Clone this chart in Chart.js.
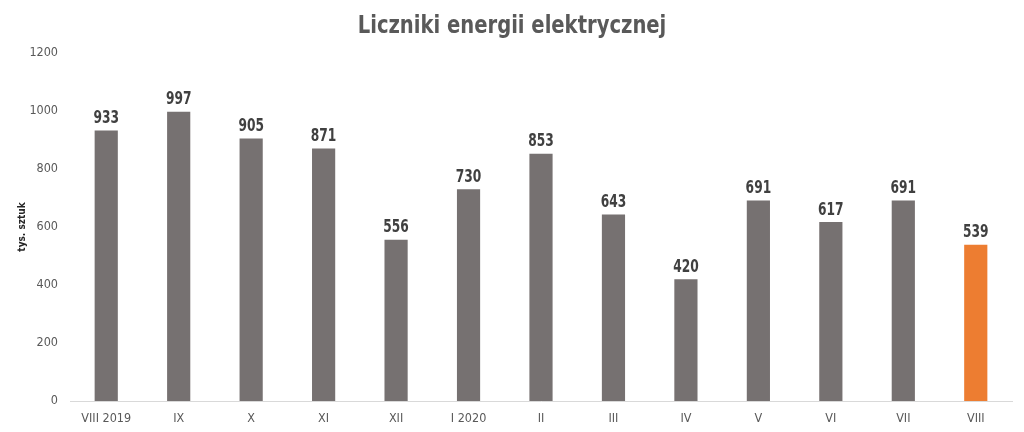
<!DOCTYPE html>
<html>
<head>
<meta charset="utf-8">
<script src="https://cdn.jsdelivr.net/npm/chart.js@4"></script>
<style>
html,body{margin:0;padding:0;background:#fff;}
#wrap{width:1024px;height:432px;position:relative;}
canvas{display:block;}
</style>
</head>
<body>
<div id="wrap"><canvas id="c" width="1024" height="432"></canvas></div>
<script>
const chartTitle = 'Liczniki energii elektrycznej';
const yAxisTitle = 'tys. sztuk';
const categories = ["VIII 2019","IX","X","XI","XII","I 2020","II","III","IV","V","VI","VII","VIII"];
const values = [933, 997, 905, 871, 556, 730, 853, 643, 420, 691, 617, 691, 539];
const barColors = ["#767171","#767171","#767171","#767171","#767171","#767171","#767171","#767171","#767171","#767171","#767171","#767171","#ED7D31"];
const yTicks = [0, 200, 400, 600, 800, 1000, 1200];

const NARROW = "'Liberation Sans Narrow','Arial Narrow','DejaVu Sans Condensed',sans-serif";

function drawCondensed(ctx, text, x, y, sx) {
  ctx.save();
  ctx.translate(x, y);
  ctx.scale(sx, 1);
  ctx.fillText(text, 0, 0);
  ctx.restore();
}

const textPlugin = {
  id: 'textPlugin',
  afterDraw(chart) {
    const ctx = chart.ctx;
    // title
    ctx.save();
    ctx.font = "bold 25px " + NARROW;
    ctx.fillStyle = "#595959";
    ctx.textAlign = "center";
    ctx.textBaseline = "alphabetic";
    drawCondensed(ctx, chartTitle, 512, 33, 0.87);
    ctx.restore();
    // value labels
    const meta = chart.getDatasetMeta(0);
    ctx.save();
    ctx.font = "bold 17px " + NARROW;
    ctx.fillStyle = "#404040";
    ctx.textAlign = "center";
    ctx.textBaseline = "alphabetic";
    meta.data.forEach((bar, i) => {
      drawCondensed(ctx, String(values[i]), bar.x, bar.y - 7.5, 0.8);
    });
    ctx.restore();
  }
};

new Chart(document.getElementById('c'), {
  type: 'bar',
  data: {
    labels: categories,
    datasets: [{
      data: values,
      backgroundColor: barColors,
      borderWidth: 0,
      categoryPercentage: 1.0,
      barPercentage: 0.32
    }]
  },
  options: {
    responsive: false,
    animation: false,
    devicePixelRatio: 1,
    layout: { padding: { left: 0, right: 12, top: 53, bottom: 0 } },
    plugins: {
      legend: { display: false },
      tooltip: { enabled: false },
      title: { display: false }
    },
    scales: {
      x: {
        afterFit(scale) { scale.height = 31; },
        grid: { display: false, drawTicks: false },
        border: { display: true, color: '#D9D9D9', width: 1 },
        ticks: {
          color: '#595959',
          font: { family: NARROW, size: 12.5 },
          padding: 10,
          maxRotation: 0,
          autoSkip: false
        }
      },
      y: {
        min: 0,
        max: 1200,
        afterBuildTicks(scale) { scale.ticks = yTicks.map(v => ({ value: v })); },
        afterFit(scale) { scale.width = 70; },
        grid: { display: false, drawTicks: false },
        border: { display: false },
        ticks: {
          color: '#595959',
          font: { family: NARROW, size: 12.5 },
          padding: 12,
          callback: (v) => String(v)
        },
        title: {
          display: true,
          text: yAxisTitle,
          color: '#262626',
          font: { family: NARROW, size: 10, weight: 'bold' },
          padding: { top: 16, bottom: 0 }
        }
      }
    }
  },
  plugins: [textPlugin]
});
</script>
</body>
</html>
